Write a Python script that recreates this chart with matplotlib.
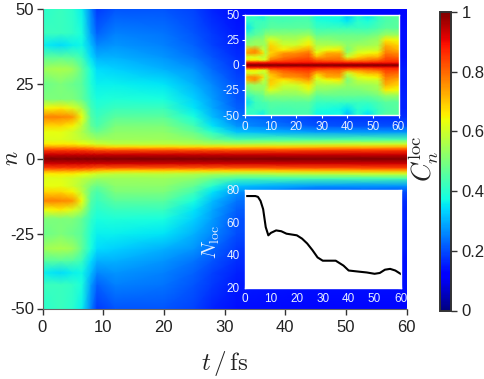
import numpy as np
import matplotlib
matplotlib.use('Agg')
import matplotlib.pyplot as plt

plt.rcParams['font.family'] = ['Liberation Sans', 'DejaVu Sans']
plt.rcParams['mathtext.fontset'] = 'cm'
plt.rcParams['axes.unicode_minus'] = False

# main map, upper half (mirrored below n=0)
main_t = [0, 3, 5, 6.5, 8, 9, 12, 20, 25, 28, 32, 45, 60]
main_n = [0, 1.5, 3, 4, 5, 6.5, 9, 11, 14, 17, 20, 25, 30, 34, 38, 42, 50]
main_c = [
    [1.00, 1.00, 1.00, 1.00, 1.00, 1.00, 1.00, 1.00, 1.00, 1.00, 1.00, 1.00, 1.00],
    [0.93, 0.93, 0.93, 0.93, 0.93, 0.93, 0.93, 0.93, 0.93, 0.93, 0.93, 0.93, 0.93],
    [0.84, 0.84, 0.84, 0.84, 0.83, 0.82, 0.82, 0.82, 0.82, 0.82, 0.82, 0.83, 0.84],
    [0.74, 0.74, 0.74, 0.73, 0.72, 0.70, 0.68, 0.68, 0.68, 0.68, 0.68, 0.70, 0.72],
    [0.66, 0.66, 0.66, 0.64, 0.62, 0.60, 0.58, 0.58, 0.57, 0.56, 0.56, 0.58, 0.60],
    [0.62, 0.62, 0.60, 0.58, 0.56, 0.54, 0.54, 0.54, 0.52, 0.48, 0.44, 0.44, 0.44],
    [0.63, 0.63, 0.60, 0.56, 0.50, 0.48, 0.52, 0.52, 0.47, 0.40, 0.32, 0.28, 0.27],
    [0.68, 0.68, 0.65, 0.58, 0.47, 0.44, 0.50, 0.50, 0.43, 0.35, 0.27, 0.21, 0.20],
    [0.77, 0.77, 0.75, 0.64, 0.45, 0.42, 0.46, 0.46, 0.38, 0.31, 0.24, 0.18, 0.17],
    [0.64, 0.66, 0.62, 0.56, 0.43, 0.40, 0.42, 0.42, 0.35, 0.29, 0.22, 0.17, 0.16],
    [0.50, 0.50, 0.50, 0.47, 0.41, 0.38, 0.39, 0.38, 0.33, 0.28, 0.21, 0.17, 0.16],
    [0.48, 0.50, 0.48, 0.46, 0.39, 0.36, 0.36, 0.35, 0.30, 0.26, 0.20, 0.16, 0.15],
    [0.54, 0.56, 0.54, 0.47, 0.38, 0.34, 0.33, 0.30, 0.27, 0.23, 0.18, 0.15, 0.15],
    [0.46, 0.46, 0.45, 0.42, 0.34, 0.30, 0.30, 0.27, 0.24, 0.21, 0.17, 0.15, 0.14],
    [0.36, 0.34, 0.36, 0.37, 0.31, 0.26, 0.27, 0.25, 0.22, 0.19, 0.16, 0.14, 0.14],
    [0.42, 0.42, 0.41, 0.38, 0.28, 0.22, 0.25, 0.24, 0.21, 0.18, 0.15, 0.14, 0.14],
    [0.40, 0.42, 0.40, 0.36, 0.25, 0.18, 0.21, 0.21, 0.19, 0.16, 0.14, 0.13, 0.13],
]

# inset map, upper half (mirrored below n=0)
inset_t = [0, 4, 7, 8, 10, 15, 20, 25, 28, 32, 37, 40, 44, 48, 52, 55, 60]
inset_n = [0, 1.5, 3, 5, 8, 12, 15, 20, 25, 30, 37, 44, 50]
inset_c = [
    [1.00] * 17,
    [0.93] * 17,
    [0.85, 0.85, 0.85, 0.85, 0.87, 0.87, 0.87, 0.88, 0.86, 0.86, 0.86, 0.85, 0.85, 0.85, 0.86, 0.87, 0.87],
    [0.66, 0.66, 0.62, 0.62, 0.78, 0.82, 0.84, 0.85, 0.81, 0.80, 0.80, 0.75, 0.76, 0.78, 0.80, 0.84, 0.84],
    [0.60, 0.62, 0.58, 0.60, 0.72, 0.78, 0.80, 0.82, 0.72, 0.76, 0.77, 0.60, 0.68, 0.72, 0.72, 0.82, 0.80],
    [0.74, 0.76, 0.68, 0.56, 0.68, 0.75, 0.76, 0.79, 0.64, 0.73, 0.73, 0.54, 0.62, 0.64, 0.66, 0.78, 0.76],
    [0.70, 0.76, 0.60, 0.56, 0.70, 0.66, 0.70, 0.74, 0.60, 0.64, 0.66, 0.50, 0.58, 0.60, 0.60, 0.76, 0.72],
    [0.52, 0.54, 0.54, 0.54, 0.68, 0.60, 0.60, 0.66, 0.56, 0.56, 0.56, 0.52, 0.54, 0.54, 0.56, 0.72, 0.68],
    [0.48, 0.52, 0.52, 0.56, 0.62, 0.56, 0.56, 0.62, 0.52, 0.52, 0.50, 0.50, 0.50, 0.52, 0.54, 0.66, 0.64],
    [0.42, 0.46, 0.48, 0.52, 0.52, 0.52, 0.52, 0.54, 0.47, 0.48, 0.48, 0.48, 0.48, 0.48, 0.50, 0.54, 0.54],
    [0.34, 0.42, 0.44, 0.44, 0.46, 0.46, 0.46, 0.46, 0.42, 0.42, 0.42, 0.42, 0.42, 0.42, 0.44, 0.46, 0.46],
    [0.40, 0.42, 0.42, 0.42, 0.44, 0.43, 0.44, 0.44, 0.39, 0.38, 0.37, 0.35, 0.40, 0.38, 0.42, 0.44, 0.46],
    [0.42, 0.40, 0.36, 0.40, 0.44, 0.44, 0.44, 0.44, 0.37, 0.37, 0.38, 0.31, 0.40, 0.34, 0.42, 0.46, 0.46],
]

nloc_t = [0, 2, 4, 5, 6, 7, 8, 9, 10, 12, 14, 16, 18, 20, 22, 24, 26, 28, 30, 32, 35, 38, 40, 44, 47, 50, 52, 54, 56, 58, 60]
nloc = [76, 76, 76, 75.5, 73, 68, 57, 52, 53.5, 55, 54.5, 53, 52.5, 52, 50, 47, 43, 38.5, 36.5, 36.5, 36.5, 33.5, 30.5, 29.8, 29.3, 28.5, 29, 31, 31.5, 30.5, 28.5]

main_ticks_n = [-50, -25, 0, 25, 50]
inset_ticks_n = [-50, -25, 0, 25, 50]
t_ticks = [0, 10, 20, 30, 40, 50, 60]
nloc_ticks = [20, 40, 60, 80]
cbar_ticks = [0, 0.2, 0.4, 0.6, 0.8, 1]
cbar_labels = ['0', '0.2', '0.4', '0.6', '0.8', '1']


def mirrored(n, c):
    n = np.array(n, dtype=float)
    c = np.array(c, dtype=float)
    return np.concatenate([-n[:0:-1], n]), np.vstack([c[:0:-1], c])


W, H = 484, 379
fig = plt.figure(figsize=(W / 100, H / 100), dpi=100, facecolor='white')


def add_ax(x0, y0, x1, y1):
    # pixel box, y measured from the top
    return fig.add_axes([x0 / W, 1 - y1 / H, (x1 - x0) / W, (y1 - y0) / H])


ax = add_ax(42.5, 9, 406.5, 308.5)
n_all, c_all = mirrored(main_n, main_c)
mesh = ax.pcolormesh(main_t, n_all, c_all, cmap='jet', vmin=0, vmax=1, shading='gouraud')
ax.set_xlim(0, 60)
ax.set_ylim(-50, 50)
ax.set_xticks(t_ticks)
ax.set_yticks(main_ticks_n)
ax.tick_params(labelsize=12, length=4, width=1, color='#333333', labelcolor='#222222', pad=2)
ax.tick_params(axis='x', pad=4)
for side in ['top', 'right']:
    ax.spines[side].set_visible(False)
for side in ['left', 'bottom']:
    ax.spines[side].set_color('#666666')
fig.text(225 / W, 1 - 363 / H, r'$t\,/\,\mathrm{fs}$', fontsize=18, ha='center', va='center', color='#222222')
fig.text(12 / W, 1 - 158 / H, r'$n$', fontsize=17, rotation=90, ha='center', va='center', color='#222222')

# inset: zoomed correlation map
ax1 = add_ax(245, 14.7, 398.5, 115)
n_in, c_in = mirrored(inset_n, inset_c)
ax1.pcolormesh(inset_t, n_in, c_in, cmap='jet', vmin=0, vmax=1, shading='gouraud')
ax1.set_xlim(0, 60)
ax1.set_ylim(-50, 50)
ax1.set_xticks(t_ticks)
ax1.set_yticks(inset_ticks_n)

# inset: localisation number
ax2 = add_ax(245, 189.5, 400.5, 287.7)
ax2.plot(nloc_t, nloc, color='black', lw=1.5)
ax2.set_xlim(0, 60)
ax2.set_ylim(20, 80)
ax2.set_xticks(t_ticks)
ax2.set_yticks(nloc_ticks)
fig.text(211 / W, 1 - 242 / H, r'$N_{\mathrm{loc}}$', fontsize=14, rotation=90, ha='center', va='center',
         color='#e8f0ff')

for a in [ax1, ax2]:
    a.tick_params(labelsize=8.5, length=2, width=0.8, color='white', labelcolor='#e8f0ff',
                  direction='out', pad=2)
    for s in a.spines.values():
        s.set_color('white')
        s.set_linewidth(1)
ax2.tick_params(direction='in', top=True, right=True)
ax2.tick_params(axis='both', pad=4)

cax = add_ax(440, 12, 450.5, 310.5)
cb = fig.colorbar(mesh, cax=cax, ticks=cbar_ticks)
cb.ax.set_yticklabels(cbar_labels)
cb.ax.tick_params(labelsize=12, length=4, width=1, color='#333333', labelcolor='#222222', pad=4)
cb.outline.set_edgecolor('#333333')
cb.outline.set_linewidth(1.4)
fig.text(424 / W, 1 - 159 / H, r'$C_n^{\mathrm{loc}}$', fontsize=19, rotation=90,
         ha='center', va='center', color='#222222')

fig.savefig('out.png', dpi=100)
